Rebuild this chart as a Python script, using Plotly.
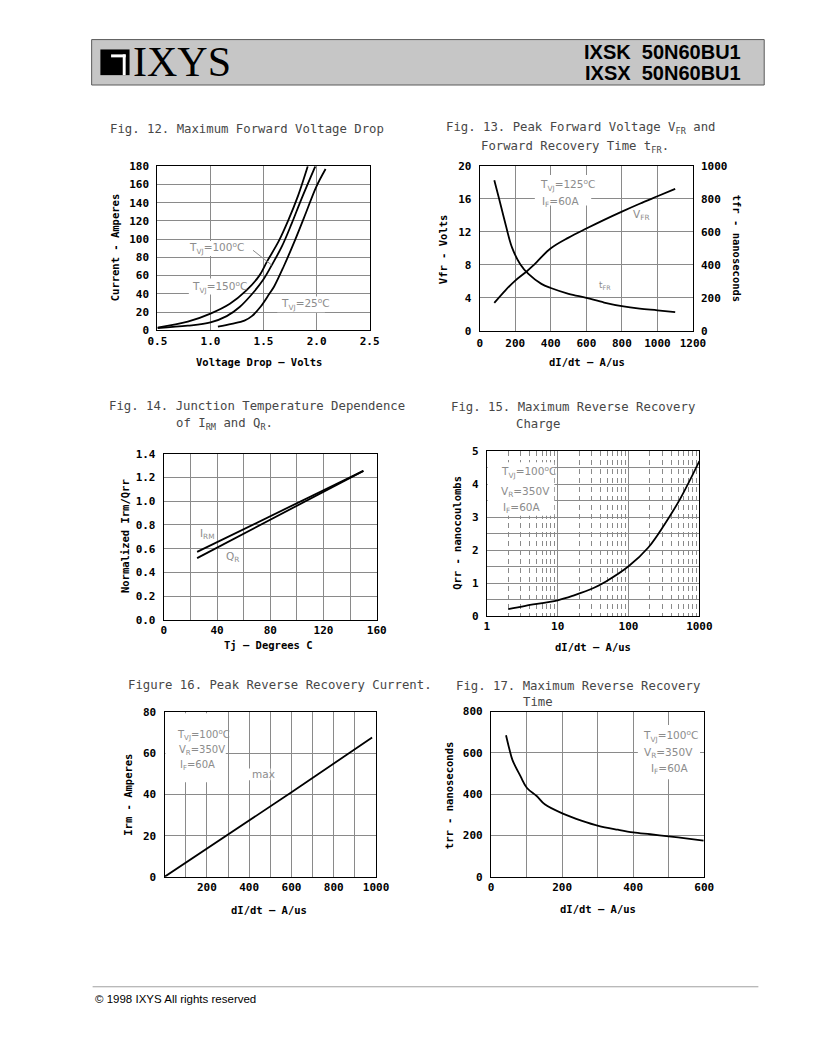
import plotly.graph_objects as go

W, H = 819, 1056

# ---------------- data ----------------
# Fig. 12  Maximum forward voltage drop
fig12_v_150 = [0.5, 0.786, 1.0, 1.183, 1.336, 1.459, 1.535, 1.642, 1.734, 1.826, 1.917]
fig12_i_150 = [3.0, 9.4, 18.3, 29.1, 43.5, 59.7, 75.9, 97.5, 120.9, 147.8, 180]
fig12_v_100 = [0.5, 0.786, 1.0, 1.153, 1.275, 1.398, 1.5, 1.575, 1.673, 1.765, 1.857, 1.988]
fig12_i_100 = [2.5, 5.0, 8.6, 15.5, 25.5, 40.6, 56, 71, 92, 117, 144, 180]
fig12_v_25 = [1.07, 1.2, 1.32, 1.39, 1.47, 1.555, 1.6, 1.69, 1.797, 1.9, 1.995, 2.085]
fig12_i_25 = [4, 7, 10.5, 15.5, 25.5, 40, 48, 70, 99, 129, 157, 177]
fig12_xticks = [0.5, 1.0, 1.5, 2.0, 2.5]
fig12_yticks = [0, 20, 40, 60, 80, 100, 120, 140, 160, 180]

# Fig. 13  Peak forward voltage / forward recovery time
fig13_didt_vfr = [82, 146, 200, 264, 300, 400, 500, 600, 700, 800, 900, 1000, 1100]
fig13_vfr = [3.4, 4.95, 6.1, 7.2, 7.9, 10.0, 11.3, 12.4, 13.45, 14.45, 15.4, 16.3, 17.2]
fig13_didt_tfr = [82, 109, 146, 182, 228, 274, 347, 400, 500, 600, 700, 800, 900, 1000, 1100]
fig13_tfr = [912, 800, 643, 504, 404, 345, 285, 260, 225, 200, 172, 150, 135, 125, 114]
fig13_xticks = [0, 200, 400, 600, 800, 1000, 1200]
fig13_yticks = [0, 4, 8, 12, 16, 20]
fig13_y2ticks = [0, 200, 400, 600, 800, 1000]

# Fig. 14  Junction temperature dependence
fig14_tj = [25, 150]
fig14_irm = [0.574, 1.256]
fig14_qr = [0.521, 1.256]
fig14_xticks = [0, 40, 80, 120, 160]
fig14_yticks = [0.0, 0.2, 0.4, 0.6, 0.8, 1.0, 1.2, 1.4]

# Fig. 15  Maximum reverse recovery charge
fig15_didt = [2, 3.5, 10, 17, 32, 48, 100, 190, 320, 540, 1000]
fig15_qrr = [0.21, 0.31, 0.48, 0.63, 0.85, 1.05, 1.51, 2.08, 2.77, 3.57, 4.70]
fig15_xticks = [1, 10, 100, 1000]
fig15_xminor = [2, 3, 4, 5, 6, 7, 8, 9, 20, 30, 40, 50, 60, 70, 80, 90,
                200, 300, 400, 500, 600, 700, 800, 900]
fig15_yticks = [0, 1, 2, 3, 4, 5]

# Fig. 16  Peak reverse recovery current
fig16_didt = [0, 600, 981]
fig16_irm = [0, 41.1, 67.7]
fig16_xticks = [200, 400, 600, 800, 1000]
fig16_yticks = [0, 20, 40, 60, 80]

# Fig. 17  Maximum reverse recovery time
fig17_didt = [42, 51, 60, 83, 101, 129, 151, 202, 256, 302, 357, 400, 448, 500, 548, 598]
fig17_trr = [685, 621, 566, 486, 430, 390, 351, 306, 271, 247, 228, 215, 206, 196, 186, 175]
fig17_xticks = [0, 200, 400, 600]
fig17_yticks = [0, 200, 400, 600, 800]

# ---------------- layout geometry (page pixels) ----------------
P = {
    'p12': dict(rect=(151.7, 370.0, 162.3, 328.3), x='x', y='y', xr=(0.5, 2.5), yr=(0, 180)),
    'p13': dict(rect=(483.3, 702.7, 161.7, 329.0), x='x2', y='y2', xr=(0, 1200), yr=(0, 20)),
    'p14': dict(rect=(158.3, 377.3, 453.3, 621.7), x='x3', y='y4', xr=(0, 160), yr=(0, 1.4)),
    'p15': dict(rect=(490.7, 709.3, 450.7, 617.7), x='x4', y='y5', xr=(0, 3), yr=(0, 5), xlog=True),
    'p16': dict(rect=(159.0, 376.7, 715.0, 881.7), x='x5', y='y6', xr=(0, 1000), yr=(0, 80)),
    'p17': dict(rect=(495.0, 714.3, 714.3, 881.7), x='x6', y='y7', xr=(0, 600), yr=(0, 800)),
}

GRID = '#8a8a8a'
MONO = 'DejaVu Sans Mono'
TICKFONT = dict(family=MONO, size=11, color='black', weight='bold')
LINE = dict(color='black', width=1.8)


def fx(px):
    return px / W


def fy(py):
    return 1 - py / H


def xdom(k):
    L, R, T, B = P[k]['rect']
    return [fx(L), fx(R)]


def ydom(k):
    L, R, T, B = P[k]['rect']
    return [fy(B), fy(T)]


def base_axis(is_x):
    return dict(showline=True, linecolor='black', linewidth=1.3, mirror=True,
                showgrid=True, gridcolor=GRID, gridwidth=1, zeroline=False,
                ticks='', tickfont=TICKFONT, ticklabelstandoff=0 if is_x else 5, fixedrange=True)


fig = go.Figure()

fig.add_trace(go.Scatter(x=fig12_v_150, y=fig12_i_150, mode='lines', line=LINE, xaxis='x', yaxis='y',
                         line_shape='spline', name='TVJ=150C'))
fig.add_trace(go.Scatter(x=fig12_v_100, y=fig12_i_100, mode='lines', line=LINE, xaxis='x', yaxis='y',
                         line_shape='spline', name='TVJ=100C'))
fig.add_trace(go.Scatter(x=fig12_v_25, y=fig12_i_25, mode='lines', line=LINE, xaxis='x', yaxis='y',
                         line_shape='spline', name='TVJ=25C'))

fig.add_trace(go.Scatter(x=fig13_didt_vfr, y=fig13_vfr, mode='lines', line=LINE, xaxis='x2', yaxis='y2',
                         line_shape='spline', name='VFR'))
fig.add_trace(go.Scatter(x=fig13_didt_tfr, y=fig13_tfr, mode='lines', line=LINE, xaxis='x2', yaxis='y3',
                         line_shape='spline', name='tFR'))

fig.add_trace(go.Scatter(x=fig14_tj, y=fig14_irm, mode='lines', line=LINE, xaxis='x3', yaxis='y4', name='IRM'))
fig.add_trace(go.Scatter(x=fig14_tj, y=fig14_qr, mode='lines', line=LINE, xaxis='x3', yaxis='y4', name='QR'))

fig.add_trace(go.Scatter(x=fig15_didt, y=fig15_qrr, mode='lines', line=LINE, xaxis='x4', yaxis='y5',
                         line_shape='spline', name='Qrr'))

fig.add_trace(go.Scatter(x=fig16_didt, y=fig16_irm, mode='lines', line=LINE, xaxis='x5', yaxis='y6', name='Irm'))

fig.add_trace(go.Scatter(x=fig17_didt, y=fig17_trr, mode='lines', line=LINE, xaxis='x6', yaxis='y7',
                         line_shape='spline', name='trr'))

lay = {}
a = base_axis(True); a.update(domain=xdom('p12'), anchor='y', range=[0.5, 2.5], tickvals=fig12_xticks, tickformat='.1f')
lay['xaxis'] = a
a = base_axis(False); a.update(domain=ydom('p12'), anchor='x', range=[0, 180], tickvals=fig12_yticks)
lay['yaxis'] = a

a = base_axis(True); a.update(domain=xdom('p13'), anchor='y2', range=[0, 1200], tickvals=fig13_xticks,
                              ticklabelstandoff=2)
lay['xaxis2'] = a
a = base_axis(False); a.update(domain=ydom('p13'), anchor='x2', range=[0, 20], tickvals=fig13_yticks)
lay['yaxis2'] = a
a = base_axis(False); a.update(overlaying='y2', side='right', anchor='x2', range=[0, 1000], tickvals=fig13_y2ticks,
                               showgrid=False, showline=False, mirror=False, ticklabelstandoff=7)
lay['yaxis3'] = a

a = base_axis(True); a.update(domain=xdom('p14'), anchor='y4', range=[0, 160], tickvals=fig14_xticks,
                              minor=dict(dtick=20, showgrid=True, gridcolor=GRID, gridwidth=1, ticks=''))
lay['xaxis3'] = a
a = base_axis(False); a.update(domain=ydom('p14'), anchor='x3', range=[0, 1.4], tickvals=fig14_yticks, tickformat='.1f')
lay['yaxis4'] = a

a = base_axis(True); a.update(domain=xdom('p15'), anchor='y5', type='log', range=[0, 3], tickvals=fig15_xticks,
                              ticktext=[str(v) for v in fig15_xticks],
                              minor=dict(tickvals=fig15_xminor, showgrid=True, gridcolor=GRID, gridwidth=1,
                                         griddash='5px,4px', ticks=''))
lay['xaxis4'] = a
a = base_axis(False); a.update(domain=ydom('p15'), anchor='x4', range=[0, 5], tickvals=fig15_yticks,
                               minor=dict(dtick=0.5, showgrid=True, gridcolor=GRID, gridwidth=1, ticks=''))
lay['yaxis5'] = a

a = base_axis(True); a.update(domain=xdom('p16'), anchor='y6', range=[0, 1000], tickvals=fig16_xticks,
                              minor=dict(dtick=100, showgrid=True, gridcolor=GRID, gridwidth=1, ticks=''))
lay['xaxis5'] = a
a = base_axis(False); a.update(domain=ydom('p16'), anchor='x5', range=[0, 80], tickvals=fig16_yticks)
lay['yaxis6'] = a

a = base_axis(True); a.update(domain=xdom('p17'), anchor='y7', range=[0, 600], tickvals=fig17_xticks,
                              minor=dict(dtick=100, showgrid=True, gridcolor=GRID, gridwidth=1, ticks=''))
lay['xaxis6'] = a
a = base_axis(False); a.update(domain=ydom('p17'), anchor='x6', range=[0, 800], tickvals=fig17_yticks)
lay['yaxis7'] = a

fig.update_layout(**lay)

# ---------------- annotations ----------------
ann = []


def text(px, py, s, size=12.3, color='#474747', xanchor='left', family=MONO, weight='normal', angle=0):
    ann.append(dict(xref='paper', yref='paper', x=fx(px), y=fy(py), text=s, showarrow=False,
                    xanchor=xanchor, yanchor='middle', textangle=angle,
                    font=dict(family=family, size=size, color=color, weight=weight)))


# figure titles
text(100.7, 125, 'Fig. 12. Maximum Forward Voltage Drop')
text(446.7, 123.3, 'Fig. 13. Peak Forward Voltage V<sub>FR</sub> and')
text(483.0, 142.3, 'Forward Recovery Time t<sub>FR</sub>.')
text(100.0, 405, 'Fig. 14. Junction Temperature Dependence')
text(169.0, 423, 'of I<sub>RM</sub> and Q<sub>R</sub>.')
text(451.7, 406, 'Fig. 15. Maximum Reverse Recovery')
text(519.0, 423, 'Charge')
text(119.0, 687.7, 'Figure 16. Peak Reverse Recovery Current.')
text(456.7, 688.3, 'Fig. 17. Maximum Reverse Recovery')
text(526.0, 704.3, 'Time')

# axis titles
AT = dict(size=10.5, color='black', weight='bold')
text(256.2, 360.7, 'Voltage Drop — Volts', xanchor='center', **AT)
text(108.3, 245.0, 'Current - Amperes', xanchor='center', angle=-90, **AT)
text(594.0, 360.0, 'dI/dt — A/us', xanchor='center', **AT)
text(445.0, 246.7, 'Vfr - Volts', xanchor='center', angle=-90, **AT)
text(748.3, 245.0, 'tfr - nanoseconds', xanchor='center', angle=90, **AT)
text(266.0, 647.3, 'Tj — Degrees C', xanchor='center', **AT)
text(118.3, 536.7, 'Normalized Irm/Qrr', xanchor='center', angle=-90, **AT)
text(599.5, 649.3, 'dI/dt — A/us', xanchor='center', **AT)
text(460.0, 533.3, 'Qrr - nanocoulombs', xanchor='center', angle=-90, **AT)
text(266.7, 915.0, 'dI/dt — A/us', xanchor='center', **AT)
text(121.7, 798.3, 'Irm - Amperes', xanchor='center', angle=-90, **AT)
text(605.0, 914.3, 'dI/dt — A/us', xanchor='center', **AT)
text(451.7, 800.0, 'trr - nanoseconds', xanchor='center', angle=-90, **AT)

# in-plot labels
LB = dict(size=10.5, color='#8c8c8c', family='DejaVu Sans')
LS = dict(size=10, color='#8c8c8c', family='DejaVu Sans')
text(182, 245, 'T<sub>VJ</sub>=100<sup>o</sup>C', **LB)
text(185, 284, 'T<sub>VJ</sub>=150<sup>o</sup>C', **LB)
text(277, 302, 'T<sub>VJ</sub>=25<sup>o</sup>C', **LB)
text(543, 181, 'T<sub>VJ</sub>=125<sup>o</sup>C', **LB)
text(545, 198, 'I<sub>F</sub>=60A', **LB)
text(639, 212, 'V<sub>FR</sub>', **LB)
text(604, 283, 't<sub>FR</sub>', size=9, color='#8c8c8c', family='DejaVu Sans')
text(193, 535, 'I<sub>RM</sub>', **LB)
text(220, 558, 'Q<sub>R</sub>', **LB)
text(503, 472, 'T<sub>VJ</sub>=100<sup>o</sup>C', **LB)
text(503, 492, 'V<sub>R</sub>=350V', **LB)
text(505, 508, 'I<sub>F</sub>=60A', **LB)
text(170, 738, 'T<sub>VJ</sub>=100<sup>o</sup>C', **LS)
text(172, 754, 'V<sub>R</sub>=350V', **LS)
text(173, 769, 'I<sub>F</sub>=60A', **LS)
text(247, 778, 'max', **LB)
text(649, 739, 'T<sub>VJ</sub>=100<sup>o</sup>C', **LB)
text(650, 756, 'V<sub>R</sub>=350V', **LB)
text(657, 773, 'I<sub>F</sub>=60A', **LB)

# header
text(125, 57, 'IXYS', size=42, color='black', family='Liberation Serif')
text(754, 47, 'IXSK  50N60BU1', size=20, color='black', family='Liberation Sans', xanchor='right', weight='bold')
text(754, 68, 'IXSX  50N60BU1', size=20, color='black', family='Liberation Sans', xanchor='right', weight='bold')

# footer
text(85, 1005, '© 1998 IXYS All rights reserved', size=11.5, color='black', family='Liberation Sans')

# ---------------- shapes ----------------
shapes = []


def prect(x0, y0, x1, y1, fill, line=None, lw=0, layer='above'):
    shapes.append(dict(type='rect', xref='paper', yref='paper', x0=fx(x0), x1=fx(x1),
                       y0=fy(y1), y1=fy(y0), fillcolor=fill,
                       line=dict(color=line or fill, width=lw), layer=layer))


def pline(x0, y0, x1, y1, color, width=1):
    shapes.append(dict(type='line', xref='paper', yref='paper', x0=fx(x0), x1=fx(x1),
                       y0=fy(y0), y1=fy(y1), line=dict(color=color, width=width), layer='above'))


def to_data(k, px, py):
    L, R, T, B = P[k]['rect']
    x0r, x1r = P[k]['xr']
    y0r, y1r = P[k]['yr']
    xv = x0r + (px - L) / (R - L) * (x1r - x0r)
    if P[k].get('xlog'):
        xv = 10 ** xv
    yv = y0r + (B - py) / (B - T) * (y1r - y0r)
    return xv, yv


def box(k, x0, x1, y0, y1):
    a0, b0 = to_data(k, x0, y1)
    a1, b1 = to_data(k, x1, y0)
    shapes.append(dict(type='rect', xref=P[k]['x'], yref=P[k]['y'],
                       x0=a0, x1=a1, y0=b0, y1=b1,
                       fillcolor='white', line=dict(width=0), layer='between'))


# header banner
prect(84, 34, 776, 80, '#c6c6c6', line='#5a5a5a', lw=1, layer='below')
# logo mark
prect(93, 44, 123, 70, 'black')
prect(104, 49, 119, 52, 'white')
prect(116, 49, 119, 70, 'white')

# footer rule
pline(85, 993, 770, 993, '#a0a0a0', 1)

# leader line fig 12
pline(250, 247.3, 269.3, 262.3, '#8c8c8c', 1)

# label backgrounds (cover grid lines behind the labels)
box('p12', 181, 237, 238, 253)
box('p12', 184, 239, 276, 292)
box('p12', 275, 324, 294, 310)
box('p13', 540, 598, 171, 202)
box('p13', 603, 616, 277, 290)
box('p13', 637, 657, 205, 219)
box('p14', 191, 208, 528, 543)
box('p14', 218, 233, 551, 566)
box('p15', 491.5, 560, 462, 516)
box('p16', 160, 222, 716, 786)
box('p16', 244, 268, 772, 784)
box('p17', 646, 710, 728, 783)

fig.update_layout(shapes=shapes, annotations=ann)

fig.update_layout(width=W, height=H, margin=dict(l=0, r=0, t=0, b=0),
                  paper_bgcolor='white', plot_bgcolor='white', showlegend=False)

fig.write_html('out.html', config={'displayModeBar': False},
               post_script="document.body.style.margin='0';document.body.style.overflow='hidden';")
